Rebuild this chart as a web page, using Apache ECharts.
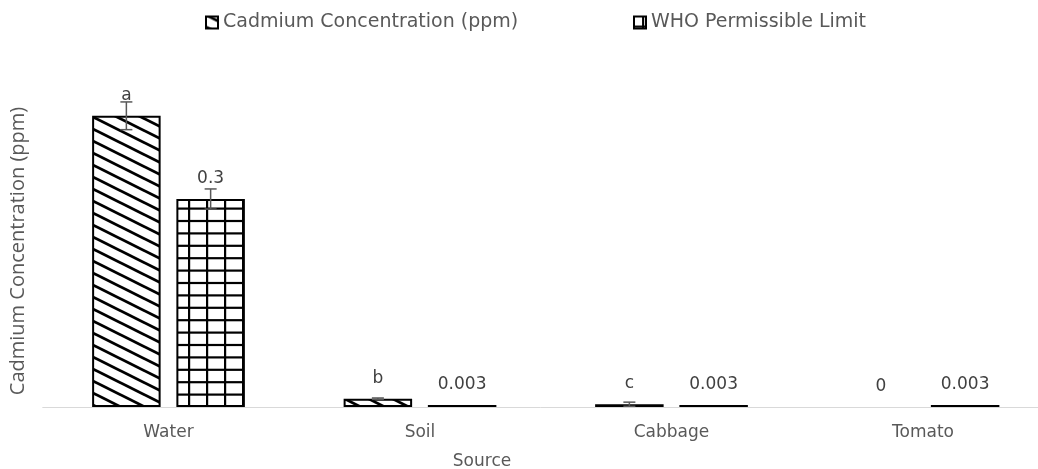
<!DOCTYPE html>
<html>
<head>
<meta charset="utf-8">
<script src="https://cdn.jsdelivr.net/npm/echarts@6/dist/echarts.min.js"></script>
<style>
html,body{margin:0;padding:0;background:#fff;}
#chart{width:1038px;height:469px;}
</style>
</head>
<body>
<div id="chart"></div>
<script>
// ---- data ----
const categories = ['Water', 'Soil', 'Cabbage', 'Tomato'];
const cadmium = [0.42, 0.012, 0.004, 0];
const cadmiumErr = [0.02, 0.001, 0.003, 0];
const cadmiumLabels = ['a', 'b', 'c', '0'];
const who = [0.3, 0.003, 0.003, 0.003];
const whoErr = [0.0145, 0, 0, 0];
const whoLabels = ['0.3', '0.003', '0.003', '0.003'];
const seriesNames = ['Cadmium Concentration (ppm)', 'WHO Permissible Limit'];

// ---- patterns ----
function diagPattern() {
  const c = document.createElement('canvas');
  c.width = 24; c.height = 12;
  const ctx = c.getContext('2d');
  ctx.fillStyle = '#fff'; ctx.fillRect(0, 0, 24, 12);
  ctx.strokeStyle = '#000'; ctx.lineWidth = 2.8;
  for (let k = -2; k <= 2; k++) {
    ctx.beginPath();
    ctx.moveTo(-24, -12 + 10.5 + k * 12);
    ctx.lineTo(48, 24 + 10.5 + k * 12);
    ctx.stroke();
  }
  return c;
}
function gridPattern() {
  const c = document.createElement('canvas');
  c.width = 18; c.height = 62;
  const ctx = c.getContext('2d');
  ctx.fillStyle = '#fff'; ctx.fillRect(0, 0, 18, 62);
  ctx.fillStyle = '#000';
  ctx.fillRect(8, 0, 2.2, 62);
  for (let k = 0; k < 5; k++) {
    ctx.fillRect(0, 9.1 + k * 12.4, 18, 2.2);
  }
  return c;
}

const barW = 68.5;
const gapPct = 23;
const offset = (barW + barW * gapPct / 100) / 2;

function makeBarData(vals) {
  return vals.map(v => v === 0 ? { value: v, itemStyle: { borderWidth: 0 } } : v);
}
function errData(vals, errs) {
  return vals.map((v, i) => [i, v, errs[i]]);
}
function errRender(dx) {
  return function (params, api) {
    const i = api.value(0), v = api.value(1), e = api.value(2);
    if (!e) return null;
    const hi = api.coord([i, v + e]);
    const lo = api.coord([i, v - e]);
    const x = hi[0] + dx;
    const st = { stroke: '#595959', lineWidth: 1.5 };
    return {
      type: 'group',
      children: [
        { type: 'line', shape: { x1: x, y1: hi[1], x2: x, y2: lo[1] }, style: st },
        { type: 'line', shape: { x1: x - 6, y1: hi[1], x2: x + 6, y2: hi[1] }, style: st },
        { type: 'line', shape: { x1: x - 6, y1: lo[1], x2: x + 6, y2: lo[1] }, style: st }
      ]
    };
  };
}

const chart = echarts.init(document.getElementById('chart'), null, { renderer: 'canvas' });
const labelStyle = { show: true, position: 'top', distance: 12, color: '#404040', fontFamily: 'DejaVu Sans', fontSize: 17 };
const legendText = { color: '#595959', fontFamily: 'DejaVu Sans', fontSize: 19 };

chart.setOption({
  animation: false,
  backgroundColor: '#fff',
  legend: [
    { data: [seriesNames[0]], left: 200, top: 8, icon: 'rect', itemWidth: 12, itemHeight: 12, itemGap: 5, textStyle: legendText },
    { data: [seriesNames[1]], left: 628, top: 8, icon: 'rect', itemWidth: 12, itemHeight: 12, itemGap: 5, textStyle: legendText }
  ],
  grid: { left: 42.75, right: -10.75, top: 95, bottom: 62, containLabel: false, outerBoundsMode: 'none' },
  xAxis: {
    type: 'category',
    data: categories,
    axisLine: { show: true, lineStyle: { color: '#d9d9d9', width: 1 } },
    axisTick: { show: false },
    axisLabel: { color: '#595959', fontFamily: 'DejaVu Sans', fontSize: 17, margin: 17 }
  },
  yAxis: {
    type: 'value',
    min: 0, max: 0.45,
    axisLine: { show: false },
    axisTick: { show: false },
    axisLabel: { show: false },
    splitLine: { show: false },
    name: 'Cadmium Concentration (ppm)',
    nameLocation: 'middle',
    nameRotate: 90,
    nameGap: 14,
    nameTextStyle: { color: '#595959', fontFamily: 'Open Sans', fontSize: 20 }
  },
  graphic: [
    { type: 'text', x: 482, y: 462, style: { text: 'Source', fill: '#595959', font: '17px "DejaVu Sans"', textAlign: 'center', textVerticalAlign: 'middle' } }
  ],
  series: [
    {
      name: seriesNames[0], type: 'bar', barWidth: barW, barGap: gapPct + '%',
      data: makeBarData(cadmium),
      itemStyle: { color: { image: diagPattern(), repeat: 'repeat' }, borderColor: '#000', borderWidth: 2 },
      label: Object.assign({}, labelStyle, { formatter: p => cadmiumLabels[p.dataIndex] }),
      z: 2
    },
    {
      name: seriesNames[1], type: 'bar', barWidth: barW,
      data: makeBarData(who),
      itemStyle: { color: { image: gridPattern(), repeat: 'repeat' }, borderColor: '#000', borderWidth: 2 },
      label: Object.assign({}, labelStyle, { formatter: p => whoLabels[p.dataIndex] }),
      z: 2
    },
    { type: 'custom', name: 'errCd', data: errData(cadmium, cadmiumErr), renderItem: errRender(-offset), z: 5, silent: true },
    { type: 'custom', name: 'errWho', data: errData(who, whoErr), renderItem: errRender(offset), z: 5, silent: true }
  ]
});
</script>
</body>
</html>
